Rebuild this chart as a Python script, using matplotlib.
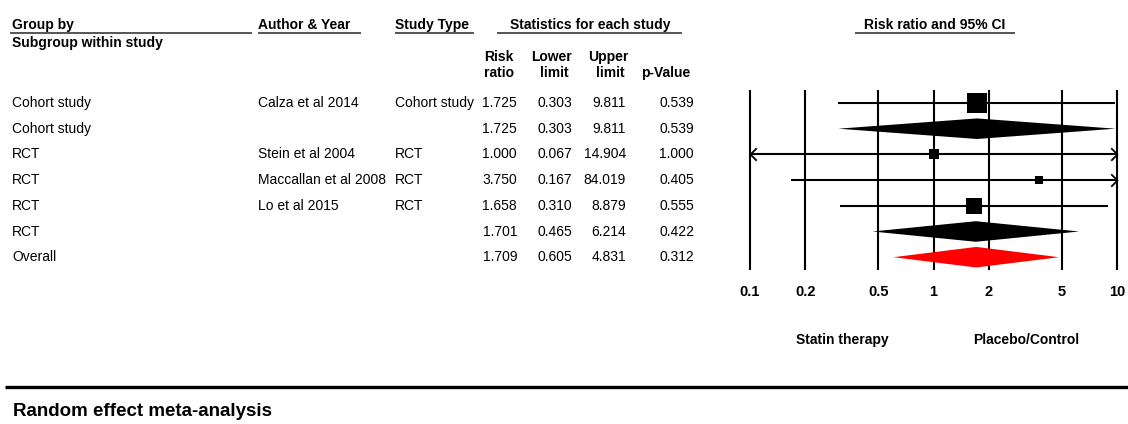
import numpy as np
import matplotlib
matplotlib.use("Agg")
import matplotlib.pyplot as plt
from matplotlib.patches import Polygon

plt.rcParams['font.family'] = ['Liberation Sans', 'DejaVu Sans']

# table data
groups = ["Cohort study", "Cohort study", "RCT", "RCT", "RCT", "RCT", "Overall"]
authors = ["Calza et al 2014", "", "Stein et al 2004", "Maccallan et al 2008", "Lo et al 2015", "", ""]
study_types = ["Cohort study", "", "RCT", "RCT", "RCT", "", ""]
risk_ratio = [1.725, 1.725, 1.000, 3.750, 1.658, 1.701, 1.709]
lower = [0.303, 0.303, 0.067, 0.167, 0.310, 0.465, 0.605]
upper = [9.811, 9.811, 14.904, 84.019, 8.879, 6.214, 4.831]
p_value = [0.539, 0.539, 1.000, 0.405, 0.555, 0.422, 0.312]
# row kind: study, subgroup summary, overall summary
kinds = ["study", "summary", "study", "study", "study", "summary", "overall"]
subgroup_of = [0, 0, 1, 1, 1, 1, None]

ticks = [0.1, 0.2, 0.5, 1, 2, 5, 10]
tick_labels = ["0.1", "0.2", "0.5", "1", "2", "5", "10"]

W, H = 1128, 424
fig = plt.figure(figsize=(W / 100, H / 100), dpi=100)

# overlay axes in pixel coordinates for the table text
tx = fig.add_axes([0, 0, 1, 1])
tx.set_xlim(0, W)
tx.set_ylim(H, 0)
tx.axis('off')

fs = 10
row_y0, row_dy = 103, 25.7
row_ys = [row_y0 + i * row_dy for i in range(len(groups))]

# headers
hdr = dict(fontsize=fs, fontweight='bold', va='center')
tx.text(12, 25, "Group by", ha='left', **hdr)
tx.text(258, 25, "Author & Year", ha='left', **hdr)
tx.text(395, 25, "Study Type", ha='left', **hdr)
tx.text(590, 25, "Statistics for each study", ha='center', **hdr)
tx.text(935, 25, "Risk ratio and 95% CI", ha='center', **hdr)
for x0, x1 in [(10, 252), (258, 361), (395, 474), (497, 682), (855, 1015)]:
    tx.plot([x0, x1], [33, 33], color='#555555', lw=1.4, solid_capstyle='butt')
tx.text(12, 43, "Subgroup within study", ha='left', **hdr)

hdr_c = [499, 551, 608]
tx.text(hdr_c[0], 57, "Risk", ha='center', **hdr)
tx.text(hdr_c[0], 73, "ratio", ha='center', **hdr)
tx.text(hdr_c[1], 57, "Lower", ha='center', **hdr)
tx.text(hdr_c[1] + 3, 73, "limit", ha='center', **hdr)
tx.text(hdr_c[2], 57, "Upper", ha='center', **hdr)
tx.text(hdr_c[2] + 2, 73, "limit", ha='center', **hdr)
tx.text(666, 73, "p-Value", ha='center', **hdr)

col_right = [517, 572, 626, 694]
for i, y in enumerate(row_ys):
    tx.text(12, y, groups[i], fontsize=fs, va='center')
    tx.text(258, y, authors[i], fontsize=fs, va='center')
    tx.text(395, y, study_types[i], fontsize=fs, va='center')
    vals = [risk_ratio[i], lower[i], upper[i], p_value[i]]
    for xr, v in zip(col_right, vals):
        tx.text(xr, y, f"{v:.3f}", fontsize=fs, va='center', ha='right')

tx.text(842, 340, "Statin therapy", fontsize=10, fontweight='bold', ha='center', va='center')
tx.text(1026, 340, "Placebo/Control", fontsize=10, fontweight='bold', ha='center', va='center')

tx.plot([5, W], [387, 387], color='black', lw=2.4, solid_capstyle='butt')
tx.text(13, 411, "Random effect meta-analysis", fontsize=13.5, fontweight='bold',
        ha='left', va='center')

# forest plot axes
x_left, x_right = 750, 1117
y_top = row_ys[0] - 0.45 * row_dy
y_bot = row_ys[-1] + 0.45 * row_dy
ax = fig.add_axes([x_left / W, 1 - y_bot / H, (x_right - x_left) / W, (y_bot - y_top) / H])
ax.set_xscale('log')
ax.set_xlim(0.1, 10)
n = len(groups)
ax.set_ylim(n - 0.55, -0.45)
for s in ax.spines.values():
    s.set_visible(False)
ax.set_yticks([])
ax.set_xticks(ticks)
ax.set_xticklabels(tick_labels, fontsize=10.5, fontweight='bold')
ax.xaxis.set_minor_locator(matplotlib.ticker.NullLocator())
ax.tick_params(axis='x', length=0, pad=12)
for t in ticks:
    ax.axvline(t, color='black', lw=1.5, zorder=1, clip_on=False)

# open chevron arrow heads
right_head = [(-1, 1), (0, 0), (-1, -1)]
left_head = [(1, 1), (0, 0), (1, -1)]

# within-subgroup weights for box size (inverse variance)
se = [(np.log(u) - np.log(l)) / (2 * 1.96) for l, u in zip(lower, upper)]
w = [1 / s ** 2 for s in se]
box_px = 20
lo_lim, hi_lim = 0.1, 10
for i in range(n):
    rr, lo, hi = risk_ratio[i], lower[i], upper[i]
    if kinds[i] == "study":
        g = subgroup_of[i]
        tot = sum(w[j] for j in range(n) if kinds[j] == "study" and subgroup_of[j] == g)
        side = box_px * np.sqrt(w[i] / tot)
        l_c, h_c = max(lo, lo_lim), min(hi, hi_lim)
        ax.plot([l_c, h_c], [i, i], color='black', lw=1.5, zorder=3,
                solid_capstyle='butt', clip_on=False)
        ax.plot([rr], [i], marker='s', color='black', markersize=side * 0.72,
                markeredgewidth=0, zorder=4)
        if hi > hi_lim:
            ax.plot([hi_lim], [i], marker=right_head, markersize=9, mfc='none',
                    mec='black', mew=1.3, zorder=4, clip_on=False)
        if lo < lo_lim:
            ax.plot([lo_lim], [i], marker=left_head, markersize=9, mfc='none',
                    mec='black', mew=1.3, zorder=4, clip_on=False)
    else:
        color = 'red' if kinds[i] == "overall" else 'black'
        half = 0.4
        poly = Polygon([[lo, i], [rr, i - half], [hi, i], [rr, i + half]],
                       closed=True, facecolor=color, edgecolor='none', zorder=3)
        ax.add_patch(poly)

fig.savefig("out.png", dpi=100)
